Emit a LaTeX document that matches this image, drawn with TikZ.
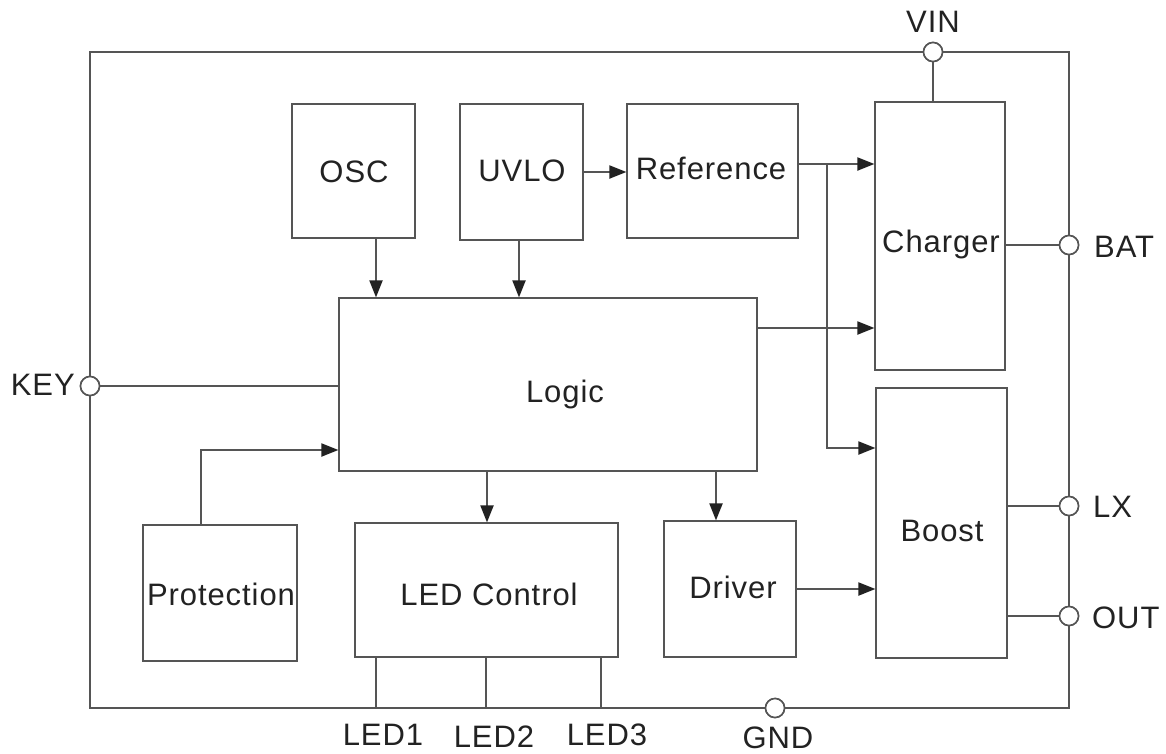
\documentclass[tikz,border=0pt]{standalone}
\usepackage{fontspec}
\setmainfont[LetterSpace=3]{Liberation Sans}
\usetikzlibrary{arrows.meta,calc}
\definecolor{ln}{HTML}{555555}
\definecolor{tx}{HTML}{222222}
\begin{document}
\begin{tikzpicture}[x=1pt,y=-1pt,
  every node/.style={font=\fontsize{31}{34}\selectfont, text=tx},
  blk/.style={draw=ln, line width=2.2pt, inner sep=0pt, fill=white},
  wire/.style={draw=ln, line width=2pt},
  arr/.style={wire, -{Triangle[length=17pt,width=13pt,color=tx]}, shorten >=-0.5pt},
  pin/.style={circle, draw=ln, line width=1.6pt, fill=white, minimum size=19pt, inner sep=0pt},
  lbl/.style={inner sep=0pt, anchor=base},
  lblw/.style={inner sep=0pt, anchor=base west},
  lble/.style={inner sep=0pt, anchor=base east}]
\useasboundingbox (0,0) rectangle (1166,753);
% frame
\coordinate (ftl) at (90,52);
\coordinate (fbr) at (1069,708);
\draw[wire] (ftl) rectangle (fbr);
% blocks
\node[blk, minimum width=123pt, minimum height=134pt] (osc) at (353.5,171) {};
\node[blk, minimum width=123pt, minimum height=136pt] (uvlo) at (521.5,172) {};
\node[blk, minimum width=171pt, minimum height=134pt] (ref) at (712.5,171) {};
\node[blk, minimum width=130pt, minimum height=268pt] (chg) at (940,236) {};
\node[blk, minimum width=131pt, minimum height=270pt] (bst) at (941.5,523) {};
\node[blk, minimum width=418pt, minimum height=173pt] (logic) at (548,384.5) {};
\node[blk, minimum width=154pt, minimum height=136pt] (prot) at (220,593) {};
\node[blk, minimum width=263pt, minimum height=134pt] (led) at (486.5,590) {};
\node[blk, minimum width=132pt, minimum height=136pt] (drv) at (730,589) {};
% block texts
\node[lbl] (oscT) at (354,182) {OSC};
\node[lbl] (uvloT) at (522,181) {UVLO};
\node[lbl] (refT) at (711,179) {Reference};
\node[lbl] (chgT) at (941,252) {Charger};
\node[lbl] (bstT) at (942,541) {Boost};
\node[lbl] (logicT) at (565,402) {Logic};
\node[lbl] (protT) at (221,605) {Protection};
\node[lbl] (ledT) at (489,605) {LED Control};
\node[lbl] (drvT) at (733,598) {Driver};
% pins
\node[pin] (vin) at (933,52) {};
\node[pin] (bat) at (1069,245) {};
\node[pin] (lx) at (1069,506) {};
\node[pin] (out) at (1069,616) {};
\node[pin] (key) at (90,386) {};
\node[pin] (gnd) at (775,708) {};
\node[lbl] (vinl) at (933,32) {VIN};
\node[lblw] (batl) at (1094,257) {BAT};
\node[lblw] (lxl) at (1093,517) {LX};
\node[lblw] (outl) at (1092,628) {OUT};
\node[lble] (keyl) at (75,395) {KEY};
\node[lbl] (gndl) at (778,748) {GND};
% helper coordinates
\coordinate (oscx) at (376,0);
\coordinate (uvx) at (519,0);
\coordinate (ry) at (0,164);
\coordinate (bx) at (827,0);
\coordinate (by) at (0,448);
\coordinate (ly) at (0,328);
\coordinate (px) at (201,0);
\coordinate (py) at (0,450);
\coordinate (lcx) at (487,0);
\coordinate (drx) at (716,0);
\coordinate (l1) at (376,708);
\coordinate (l2) at (486,708);
\coordinate (l3) at (601,708);
% connectors
\draw[wire] (vin) -- (vin |- chg.north);
\draw[wire] (chg.east |- bat) -- (bat);
\draw[wire] (bst.east |- lx) -- (lx);
\draw[wire] (bst.east |- out) -- (out);
\draw[wire] (key) -- (key -| logic.west);
\draw[arr] (osc.south -| oscx) -- (oscx |- logic.north);
\draw[arr] (uvlo.south -| uvx) -- (uvx |- logic.north);
\draw[arr] (uvlo.east) -- (ref.west |- uvlo.east);
\draw[arr] (ref.east |- ry) -- (chg.west |- ry);
\draw[arr] (bx |- ry) -- (bx |- by) -- (bst.west |- by);
\draw[arr] (logic.east |- ly) -- (chg.west |- ly);
\draw[arr] (prot.north -| px) -- (px |- py) -- (logic.west |- py);
\draw[arr] (logic.south -| lcx) -- (lcx |- led.north);
\draw[arr] (logic.south -| drx) -- (drx |- drv.north);
\draw[arr] (drv.east) -- (bst.west |- drv.east);
\draw[wire] (led.south -| l1) -- (l1);
\draw[wire] (led.south -| l2) -- (l2);
\draw[wire] (led.south -| l3) -- (l3);
\node[lbl] (led1) at (383,745) {LED1};
\node[lbl] (led2) at (494,747) {LED2};
\node[lbl] (led3) at (607,745) {LED3};
% redraw pins on top
\node[pin] at (vin) {};
\node[pin] at (bat) {};
\node[pin] at (lx) {};
\node[pin] at (out) {};
\node[pin] at (key) {};
\node[pin] at (gnd) {};
\end{tikzpicture}
\end{document}
